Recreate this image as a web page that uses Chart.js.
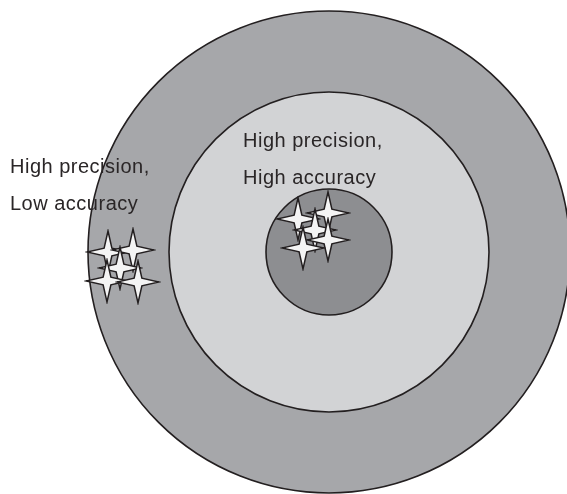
<!DOCTYPE html>
<html>
<head>
<meta charset="utf-8">
<script src="https://cdn.jsdelivr.net/npm/chart.js@4/dist/chart.umd.min.js"></script>
<style>
  html, body { margin: 0; padding: 0; background: #fff; }
  #wrap { width: 567px; height: 494px; }
</style>
</head>
<body>
<div id="wrap"><canvas id="alvo"></canvas></div>
<script>
// dados do alvo (unidades do gráfico, centro em 0,0) --------------------------
const ringRadii = [241, 160, 63];
const ringColors = ["#a6a7aa", "#d2d3d5", "#8d8e91"];

const lowAccuracyX = [-221, -196, -209, -222, -191];
const lowAccuracyY = [0, 2, -16, -29, -30];

const highAccuracyX = [-31, -1, -14, -1, -26];
const highAccuracyY = [33, 39, 22, 12, 4];

const labelLines = [
    ["High precision,", "Low accuracy"],
    ["High precision,", "High accuracy"]
];
const labelAnchors = [
    { x: -319, y: 79 },
    { x: -86, y: 105 }
];
const LINE_GAP = 37;

// estrela de 4 pontas desenhada num canvas pra usar como pointStyle
function makeStar(R, r) {
    const size = R * 2 + 4;
    const c = document.createElement("canvas");
    c.width = size;
    c.height = size;
    const ctx = c.getContext("2d");
    const m = size / 2;
    ctx.translate(m, m);
    ctx.beginPath();
    for (let i = 0; i < 8; i++) {
        const ang = -Math.PI / 2 + i * Math.PI / 4;
        const rad = i % 2 === 0 ? R : r;
        const px = Math.cos(ang) * rad;
        const py = Math.sin(ang) * rad;
        if (i === 0) ctx.moveTo(px, py); else ctx.lineTo(px, py);
    }
    ctx.closePath();
    ctx.fillStyle = "#f4f4f4";
    ctx.fill();
    ctx.lineJoin = "miter";
    ctx.lineWidth = 1.5;
    ctx.strokeStyle = "#231f20";
    ctx.stroke();
    return c;
}
const star = makeStar(21, 5.5);

const toPoints = (xs, ys) => xs.map((x, i) => ({ x: x, y: ys[i] }));

const ringsPlugin = {
    id: "rings",
    beforeDatasetsDraw(chart) {
        const { ctx, scales } = chart;
        const cx = scales.x.getPixelForValue(0);
        const cy = scales.y.getPixelForValue(0);
        ctx.save();
        ringRadii.forEach((r, i) => {
            const rp = scales.x.getPixelForValue(r) - cx;
            ctx.beginPath();
            ctx.arc(cx, cy, rp, 0, Math.PI * 2);
            ctx.fillStyle = ringColors[i];
            ctx.fill();
            ctx.lineWidth = 1.6;
            ctx.strokeStyle = "#231f20";
            ctx.stroke();
        });
        ctx.restore();
    }
};

const textPlugin = {
    id: "rotulos",
    afterDatasetsDraw(chart) {
        const { ctx, scales } = chart;
        ctx.save();
        ctx.font = "20px 'Liberation Sans', Arial, sans-serif";
        ctx.letterSpacing = "0.5px";
        ctx.fillStyle = "#2a2627";
        ctx.textBaseline = "alphabetic";
        ctx.textAlign = "left";
        labelLines.forEach((lines, i) => {
            const x = scales.x.getPixelForValue(labelAnchors[i].x);
            const y = scales.y.getPixelForValue(labelAnchors[i].y);
            lines.forEach((t, j) => ctx.fillText(t, x, y + j * LINE_GAP));
        });
        ctx.restore();
    }
};

document.addEventListener("DOMContentLoaded", () => {
    const ctx = document.getElementById("alvo").getContext("2d");
    new Chart(ctx, {
        type: "scatter",
        data: {
            datasets: [
                { label: "Low accuracy", data: toPoints(lowAccuracyX, lowAccuracyY), pointStyle: star },
                { label: "High accuracy", data: toPoints(highAccuracyX, highAccuracyY), pointStyle: star }
            ]
        },
        options: {
            responsive: true,
            maintainAspectRatio: false,
            animation: false,
            layout: { padding: 0, autoPadding: false },
            events: [],
            plugins: { legend: { display: false }, tooltip: { enabled: false } },
            scales: {
                x: { type: "linear", min: -329, max: 238, display: false },
                y: { type: "linear", min: -242, max: 252, display: false }
            },
            datasets: { scatter: { clip: false } }
        },
        plugins: [ringsPlugin, textPlugin]
    });
});
</script>
</body>
</html>
